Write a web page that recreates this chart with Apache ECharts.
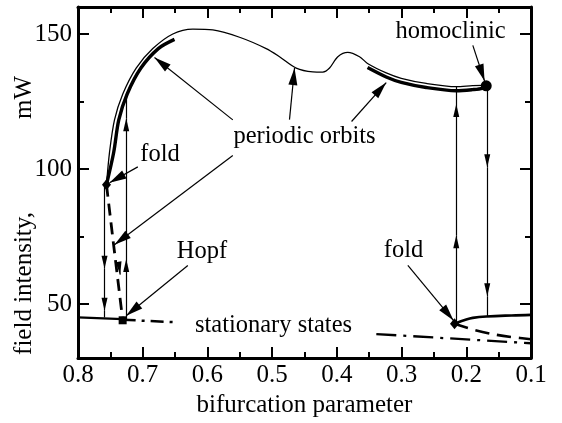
<!DOCTYPE html>
<html><head><meta charset="utf-8">
<script src="https://cdn.jsdelivr.net/npm/echarts@6/dist/echarts.min.js"></script>
<style>html,body{margin:0;padding:0;background:#fff}#c{width:562px;height:423px}</style>
</head><body><div id="c"></div>
<script>
// ---------- data (x = bifurcation parameter, y = field intensity, mW) ----------
const yMajorTicks = [50, 100, 150];
const yMinorTicks = [75, 125];

// periodic orbit envelope (thin line)
const periodicThin = [
  [0.756, 94.2], [0.7513, 106.2], [0.7436, 118.2], [0.7308, 127.8], [0.7101, 137.4],
  [0.6844, 144.6], [0.6535, 150.0], [0.6226, 151.8], [0.5917, 151.5], [0.5504, 148.8],
  [0.5092, 144.6], [0.4886, 141.6], [0.4628, 137.4], [0.4371, 136.0], [0.4217, 135.9],
  [0.4113, 137.4], [0.3985, 141.6], [0.3831, 143.2], [0.3650, 141.6], [0.3526, 139.1],
  [0.3237, 135.6], [0.3005, 133.6], [0.2619, 131.7], [0.2155, 130.5], [0.1904, 130.9],
  [0.1750, 131.0], [0.1692, 130.8]
];
// stable periodic orbits (thick lines)
const periodicThickLeft = [
  [0.756, 94.2], [0.7448, 106.2], [0.7370, 118.2], [0.7240, 127.8], [0.7028, 137.4],
  [0.6759, 144.6], [0.6509, 148.0]
];
const periodicThickRight = [
  [0.3526, 137.6], [0.3237, 134.1], [0.3005, 132.1], [0.2619, 130.2], [0.2155, 129.0],
  [0.1904, 129.4], [0.1750, 129.9], [0.1692, 130.8]
];
// stationary states
const stableLeft = [[0.8, 45.1], [0.731, 44.4]];
const unstableLeftDashDot = [[0.731, 44.2], [0.651, 43.3]];
const unstableRightDashDot = [[0.339, 38.9], [0.1, 35.5]];
const stableRight = [[0.2182, 42.7], [0.2, 44.3], [0.19, 44.9], [0.169, 45.4], [0.13, 45.8], [0.1, 46.0]];
const unstableRightDash = [[0.2182, 42.7], [0.19, 40.6], [0.16, 38.9], [0.13, 37.8], [0.1, 37.0]];
const unstableLeftDash = [[0.756, 94.2], [0.745, 72.0], [0.731, 44.2]];

// special points
const foldPoints = [[0.756, 94.2], [0.2182, 42.7]];
const hopfPoint = [[0.731, 44.0]];
const homoclinicPoint = [[0.1692, 130.8]];

// vertical jumps (x, from, to, arrow tips)
const flowLines = [
  { x: 0.759, from: 94.2, to: 45.0, tips: [63.1, 47.5] },
  { x: 0.7255, from: 44.4, to: 127.8, tips: [66.7, 118.8] },
  { x: 0.2155, from: 42.7, to: 130.5, tips: [75.5, 124.1] },
  { x: 0.1676, from: 130.8, to: 45.5, tips: [100.7, 52.9] }
];
const dashedFlowArrow = [[0.7371, 65.2], [0.7348, 60.9]];

// annotation arrows [start, tip]
const annotationArrows = [
  [[0.5608, 118.2], [0.6818, 141.3]],
  [[0.4732, 118.3], [0.4654, 137.4]],
  [[0.3773, 117.6], [0.3237, 132.0]],
  [[0.5608, 105.0], [0.7436, 72.0]],
  [[0.7076, 100.8], [0.7513, 94.9]],
  [[0.6303, 64.3], [0.7255, 45.7]],
  [[0.2903, 64.3], [0.2197, 43.9]],
  [[0.1899, 145.8], [0.1718, 132.6]]
];
// annotation texts
const annotationTexts = [
  { name: 'homoclinic', value: [0.2244, 150.8] },
  { name: 'periodic orbits', value: [0.450, 112.1] },
  { name: 'fold', value: [0.6733, 105.5] },
  { name: 'Hopf', value: [0.6084, 69.5] },
  { name: 'fold', value: [0.297, 69.8] },
  { name: 'stationary states', value: [0.4979, 42.0] }
];

// ---------- build ----------
const FONT = '"Liberation Serif", "Times New Roman", serif';
const arrowPath = 'path://M0,0 M0,16 L4,32 L-4,32 Z';

const flowArrowSegs = [], flowPlainSegs = [];
flowLines.forEach(f => {
  const pts = [f.from].concat(f.tips).concat([f.to]);
  for (let i = 0; i < pts.length - 1; i++) {
    const seg = { coords: [[f.x, pts[i]], [f.x, pts[i + 1]]] };
    if (i < f.tips.length) flowArrowSegs.push(seg); else flowPlainSegs.push(seg);
  }
});
flowArrowSegs.push({ coords: dashedFlowArrow });

function ln(data, width, type, extra) {
  return Object.assign({
    type: 'line', data: data, symbol: 'none', showSymbol: false, silent: true,
    lineStyle: { color: '#000', width: width, type: type || 'solid', cap: 'butt', opacity: 1 },
    z: 3
  }, extra || {});
}

const series = [
  ln(periodicThin, 1.3, 'solid', { smooth: 0.3 }),
  ln(periodicThickLeft, 3.4, 'solid', { smooth: 0.3 }),
  ln(periodicThickRight, 3.4, 'solid', { smooth: 0.3 }),
  ln(stableLeft, 2.2),
  ln(unstableLeftDashDot, 2.5, [13, 6, 3, 6]),
  ln(unstableRightDashDot, 2.3, [20, 7, 3, 7]),
  ln(stableRight, 2.6, 'solid', { smooth: 0.4 }),
  ln(unstableRightDash, 2.6, [14, 8], { smooth: 0.3 }),
  ln(unstableLeftDash, 2.8, [12, 7]),
  {
    type: 'lines', coordinateSystem: 'cartesian2d', silent: true, z: 4,
    lineStyle: { color: '#000', width: 1.2, opacity: 1 }, symbol: ['none', 'none'],
    data: flowPlainSegs
  },
  {
    type: 'lines', coordinateSystem: 'cartesian2d', silent: true, z: 4,
    lineStyle: { color: '#000', width: 1.2, opacity: 1 },
    symbol: ['none', arrowPath], symbolSize: [0, [6, 26]],
    data: flowArrowSegs
  },
  {
    type: 'lines', coordinateSystem: 'cartesian2d', silent: true, z: 4,
    lineStyle: { color: '#000', width: 1.2, opacity: 1 },
    symbol: ['none', arrowPath], symbolSize: [0, [9, 34]],
    data: annotationArrows.map(a => ({ coords: a }))
  },
  { type: 'scatter', data: foldPoints, symbol: 'diamond', symbolSize: [9, 11], itemStyle: { color: '#000', opacity: 1 }, silent: true, z: 6 },
  { type: 'scatter', data: hopfPoint, symbol: 'rect', symbolSize: 8, itemStyle: { color: '#000', opacity: 1 }, silent: true, z: 6 },
  { type: 'scatter', data: homoclinicPoint, symbol: 'circle', symbolSize: 11, itemStyle: { color: '#000', opacity: 1 }, silent: true, z: 6 },
  {
    type: 'scatter', data: annotationTexts, symbolSize: 0, silent: true, z: 7,
    itemStyle: { opacity: 1, color: '#000' },
    label: { show: true, position: 'inside', formatter: p => p.name, fontSize: 24.5, fontFamily: FONT, color: '#000', opacity: 1 }
  }
];

function xAx(pos, labels) {
  return {
    type: 'value', position: pos, min: 0.1, max: 0.8, interval: 0.1, inverse: true,
    axisLine: { show: true, onZero: false, lineStyle: { color: '#000', width: 3 } },
    axisTick: { show: true, inside: true, length: 11, lineStyle: { color: '#000', width: 2 } },
    minorTick: { show: true, splitNumber: 2, length: 6, lineStyle: { color: '#000', width: 2 } },
    axisLabel: { show: labels, margin: 5, fontSize: 25, fontFamily: FONT, color: '#000', formatter: v => v.toFixed(1) },
    splitLine: { show: false }, minorSplitLine: { show: false },
    name: labels ? 'bifurcation parameter' : '', nameLocation: 'middle', nameGap: 31,
    nameTextStyle: { fontSize: 25, fontFamily: FONT, color: '#000' }
  };
}
function yAx(pos, ticks, len, line, labels) {
  return {
    type: 'value', position: pos, min: 30, max: 160,
    axisLine: { show: line, onZero: false, lineStyle: { color: '#000', width: 3 } },
    axisTick: { show: true, inside: true, length: len, customValues: ticks, lineStyle: { color: '#000', width: 2 } },
    axisLabel: { show: labels, customValues: ticks, margin: 6, fontSize: 25, fontFamily: FONT, color: '#000' },
    splitLine: { show: false }
  };
}

const chart = echarts.init(document.getElementById('c'), null, { renderer: 'canvas' });
chart.setOption({
  animation: false,
  backgroundColor: '#fff',
  textStyle: { fontFamily: FONT, color: '#000' },
  grid: { left: 78, right: 31, top: 7, bottom: 54, containLabel: false },
  xAxis: [xAx('bottom', true), xAx('top', false)],
  yAxis: [
    yAx('left', yMajorTicks, 11, true, true),
    yAx('left', yMinorTicks, 6, false, false),
    yAx('right', yMajorTicks, 11, true, false),
    yAx('right', yMinorTicks, 6, false, false)
  ],
  graphic: [
    { type: 'text', x: 24, y: 283.5, rotation: Math.PI / 2, silent: true,
      style: { text: 'field intensity,', fontSize: 25, fontFamily: FONT, fill: '#000', align: 'center', verticalAlign: 'middle', textAlign: 'center', textVerticalAlign: 'middle' } },
    { type: 'text', x: 24, y: 97.5, rotation: Math.PI / 2, silent: true,
      style: { text: 'mW', fontSize: 25, fontFamily: FONT, fill: '#000', align: 'center', verticalAlign: 'middle', textAlign: 'center', textVerticalAlign: 'middle' } }
  ],
  series: series
});
</script></body></html>
